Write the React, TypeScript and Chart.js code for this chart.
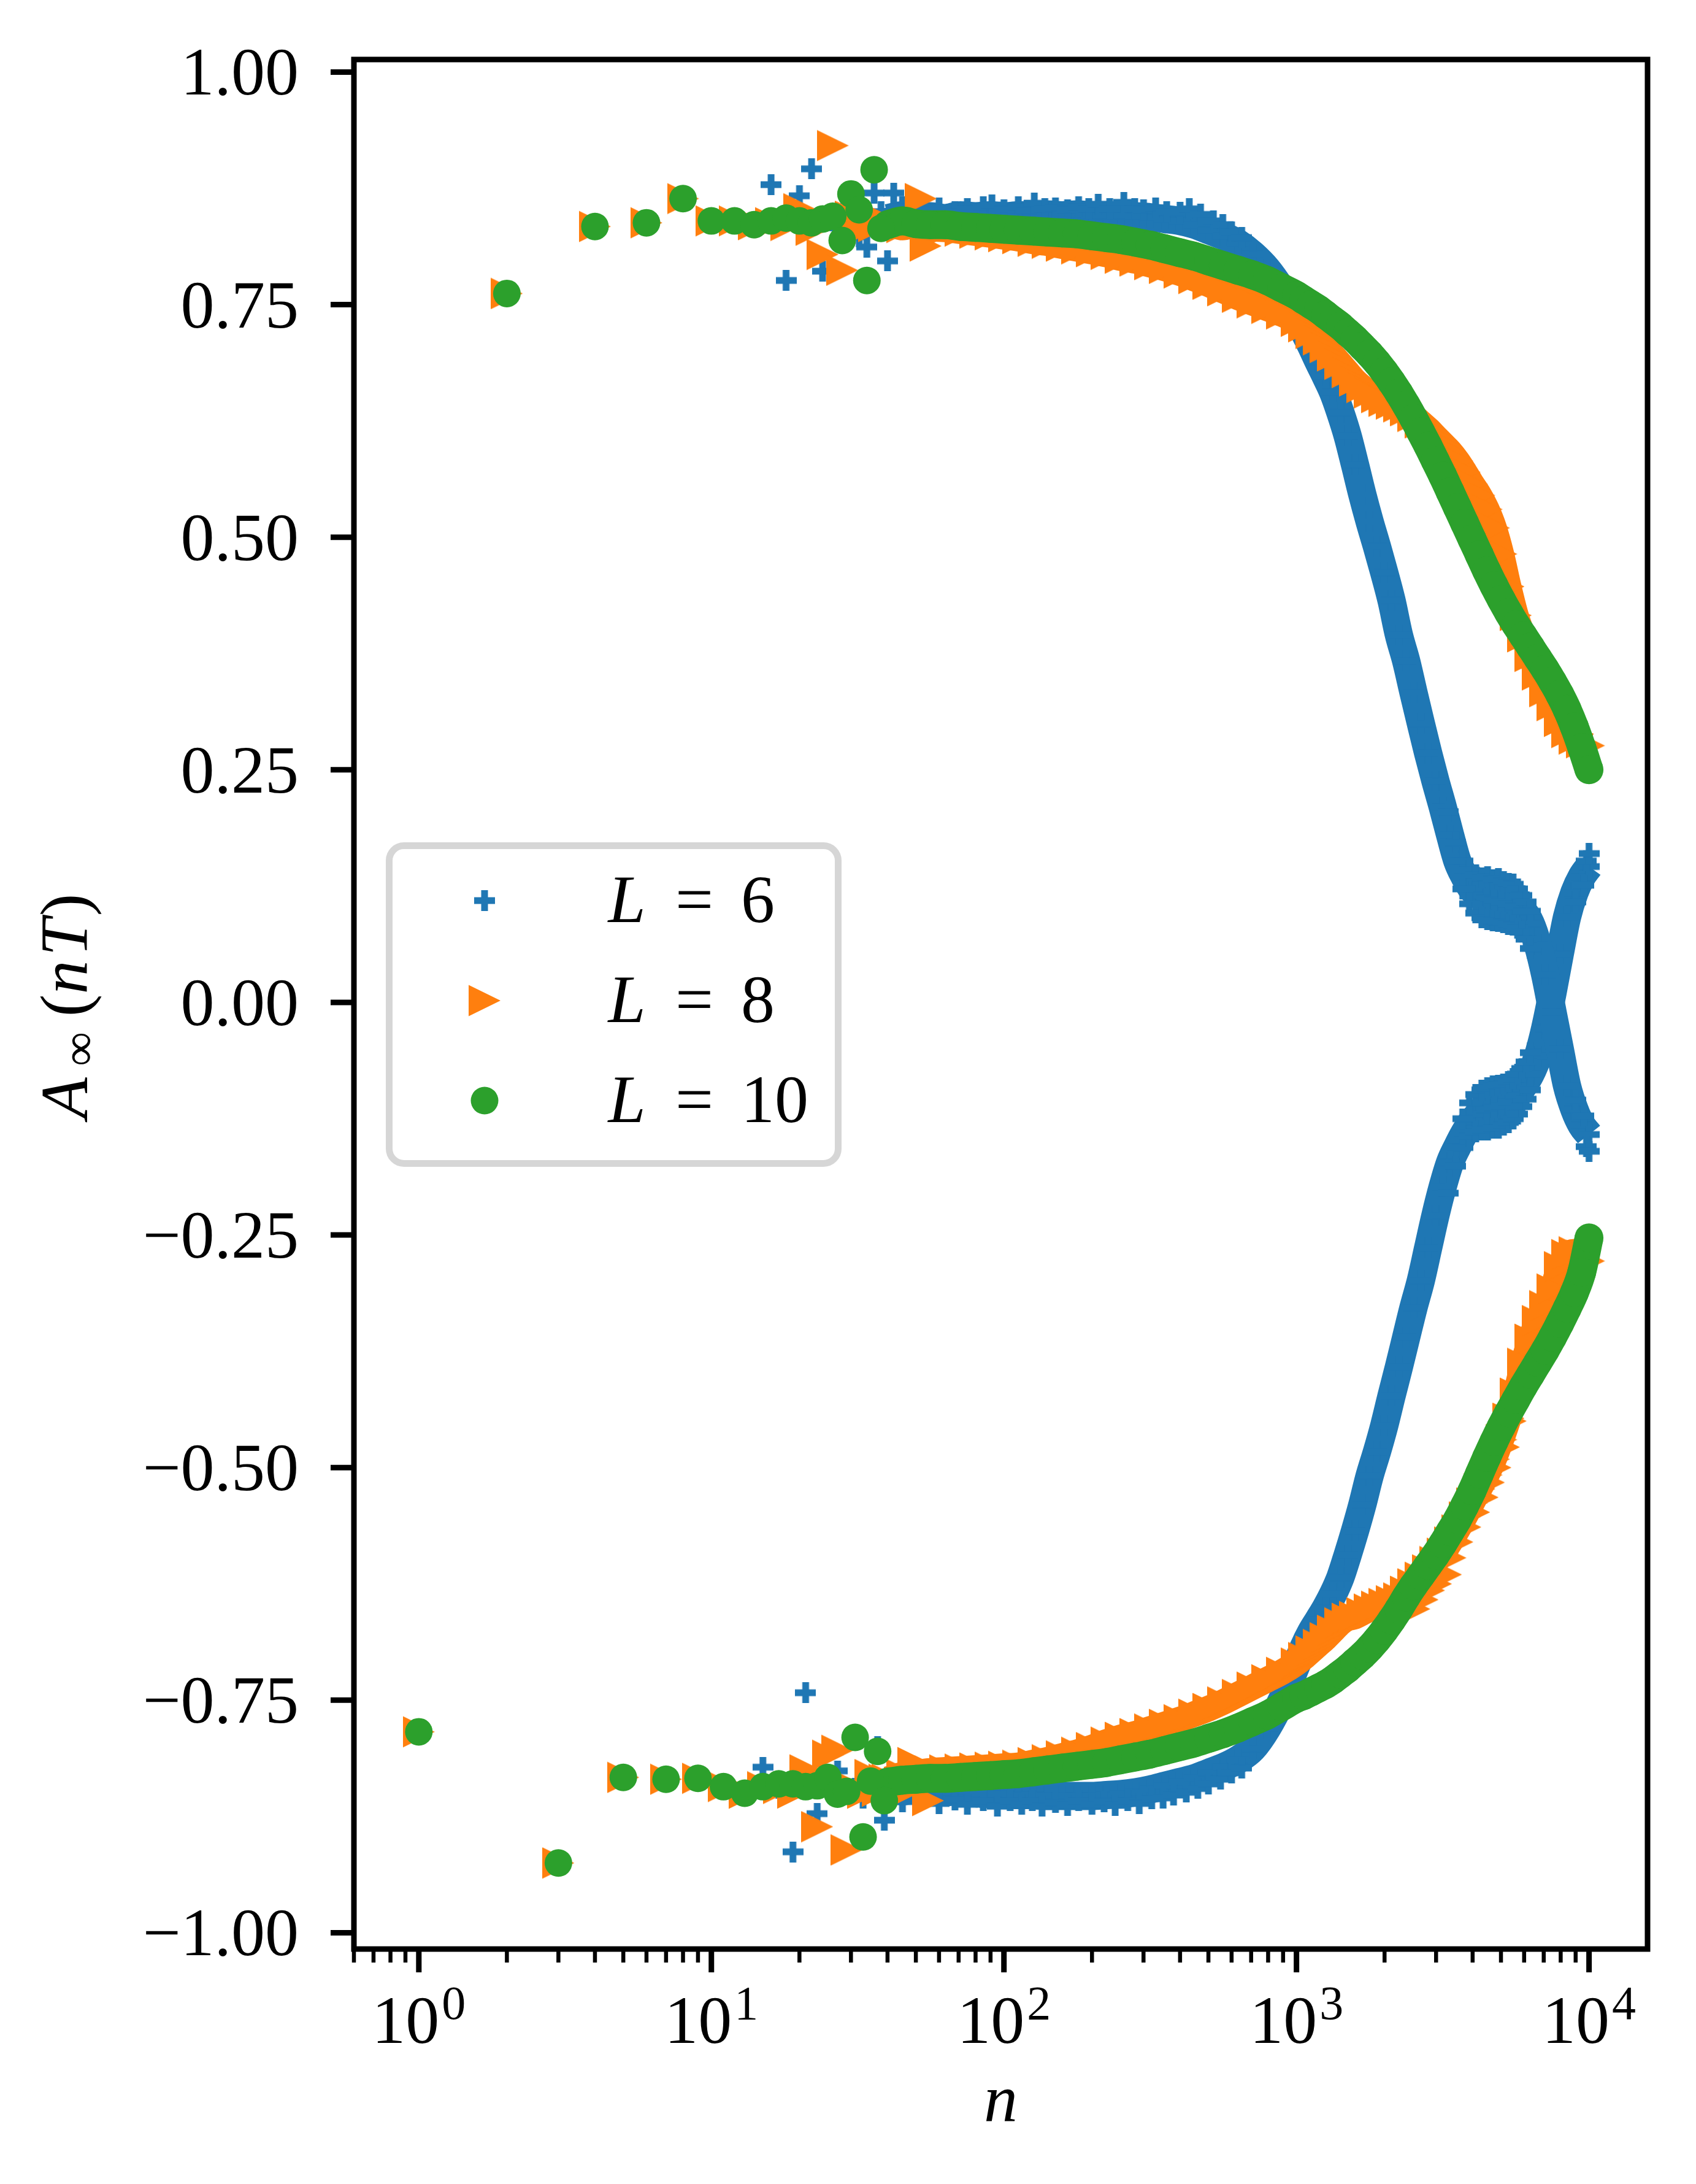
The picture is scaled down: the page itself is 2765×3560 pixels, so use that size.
import React, { useEffect, useRef } from 'react';
import { Chart, registerables } from 'chart.js';

Chart.register(...registerables);

// ---------------- data ----------------
const N_EARLY = [1, 2, 3, 4, 5, 6, 7, 8, 9, 10, 11, 12, 13, 14, 15, 16, 17, 18, 19, 20,
  21, 22, 23, 24, 25, 26, 27, 28, 29, 30, 31, 32, 33, 34, 35, 36, 37, 38, 39];

const L6_EARLY = [-0.784, 0.762, -0.925, 0.834, -0.833, 0.838, -0.835, 0.864, -0.834, 0.840,
  -0.843, 0.840, -0.850, 0.838, -0.822, 0.879, -0.845, 0.776, -0.913, 0.867,
  -0.742, 0.896, -0.872, 0.786, -0.840, 0.840, -0.826, 0.845, -0.850, 0.862,
  -0.845, 0.823, -0.855, 0.812, -0.840, 0.870, -0.800, 0.850, -0.879];

const L8_EARLY = [-0.784, 0.762, -0.925, 0.834, -0.833, 0.838, -0.835, 0.864, -0.834, 0.840,
  -0.843, 0.840, -0.850, 0.836, -0.843, 0.838, -0.845, 0.835, -0.850, 0.853,
  -0.825, 0.830, -0.886, 0.804, -0.809, 0.921, -0.804, 0.787, -0.911, 0.845,
  -0.845, 0.830, -0.850, 0.845, -0.830, 0.834, -0.848, 0.840, -0.835];

const L10_EARLY = [-0.784, 0.762, -0.925, 0.834, -0.833, 0.838, -0.835, 0.864, -0.834, 0.840,
  -0.843, 0.840, -0.850, 0.836, -0.843, 0.840, -0.840, 0.843, -0.840, 0.840,
  -0.843, 0.838, -0.842, 0.842, -0.833, 0.845, -0.851, 0.819, -0.848, 0.869,
  -0.790, 0.852, -0.897, 0.776, -0.837, 0.895, -0.805, 0.832, -0.858];

const N_BAND = [40, 45, 50, 56, 63, 71, 80, 90, 100,
  112, 126, 141, 158, 178, 200, 224, 251, 282, 316,
  355, 398, 447, 501, 562, 631, 708, 794, 891, 1000,
  1059, 1122, 1189, 1259, 1334, 1413, 1496, 1585, 1679, 1778,
  1884, 1995, 2113, 2239, 2371, 2512, 2661, 2818, 2985, 3162,
  3350, 3548, 3758, 3981, 4217, 4467, 4732, 5012, 5309, 5623,
  5957, 6310, 6683, 7079, 7499, 7943, 8414, 8913, 9441, 10000];

const L10_POS = [0.836, 0.840, 0.837, 0.836, 0.836, 0.834, 0.833, 0.832, 0.831,
  0.830, 0.829, 0.828, 0.827, 0.826, 0.824, 0.822, 0.820, 0.817, 0.814,
  0.810, 0.806, 0.802, 0.797, 0.792, 0.787, 0.782, 0.776, 0.768, 0.760,
  0.755, 0.750, 0.745, 0.739, 0.733, 0.727, 0.720, 0.713, 0.705, 0.697,
  0.688, 0.678, 0.667, 0.655, 0.642, 0.628, 0.613, 0.598, 0.582, 0.566,
  0.549, 0.532, 0.515, 0.498, 0.481, 0.464, 0.448, 0.433, 0.419, 0.406,
  0.394, 0.382, 0.370, 0.358, 0.345, 0.331, 0.315, 0.296, 0.274, 0.250];

const L10_NEG = [-0.838, -0.836, -0.835, -0.834, -0.834, -0.833, -0.832, -0.831, -0.830,
  -0.829, -0.827, -0.825, -0.823, -0.821, -0.819, -0.817, -0.814, -0.811, -0.808,
  -0.804, -0.800, -0.796, -0.791, -0.786, -0.780, -0.773, -0.766, -0.757, -0.748,
  -0.745, -0.741, -0.737, -0.733, -0.728, -0.722, -0.716, -0.709, -0.702, -0.694,
  -0.685, -0.675, -0.664, -0.652, -0.639, -0.627, -0.616, -0.605, -0.594, -0.582,
  -0.569, -0.556, -0.541, -0.525, -0.507, -0.489, -0.472, -0.456, -0.441, -0.427,
  -0.413, -0.400, -0.387, -0.374, -0.360, -0.345, -0.329, -0.312, -0.290, -0.253];

const L8_POS = [0.838, 0.833, 0.836, 0.832, 0.831, 0.829, 0.827, 0.825, 0.823,
  0.821, 0.818, 0.816, 0.813, 0.810, 0.807, 0.804, 0.800, 0.797, 0.793,
  0.789, 0.784, 0.778, 0.772, 0.765, 0.758, 0.752, 0.746, 0.740, 0.732,
  0.726, 0.719, 0.712, 0.704, 0.695, 0.686, 0.677, 0.668, 0.661, 0.655,
  0.650, 0.646, 0.643, 0.640, 0.636, 0.630, 0.623, 0.616, 0.608, 0.600,
  0.592, 0.582, 0.570, 0.557, 0.545, 0.530, 0.510, 0.482, 0.447, 0.416,
  0.393, 0.372, 0.352, 0.334, 0.319, 0.302, 0.290, 0.283, 0.279, 0.276];

const L8_NEG = [-0.835, -0.830, -0.828, -0.826, -0.825, -0.824, -0.823, -0.822, -0.821,
  -0.820, -0.817, -0.814, -0.810, -0.806, -0.801, -0.795, -0.790, -0.786, -0.781,
  -0.776, -0.771, -0.765, -0.759, -0.752, -0.744, -0.736, -0.728, -0.720, -0.710,
  -0.704, -0.697, -0.690, -0.683, -0.675, -0.667, -0.662, -0.660, -0.656, -0.652,
  -0.649, -0.646, -0.643, -0.640, -0.633, -0.625, -0.618, -0.610, -0.601, -0.592,
  -0.580, -0.567, -0.553, -0.538, -0.523, -0.508, -0.491, -0.470, -0.447, -0.420,
  -0.388, -0.362, -0.342, -0.326, -0.308, -0.284, -0.271, -0.268, -0.272, -0.278];

const L6_POS = [0.843, 0.846, 0.844, 0.845, 0.843, 0.846, 0.845, 0.846, 0.845,
  0.846, 0.846, 0.847, 0.846, 0.847, 0.846, 0.846, 0.846, 0.845, 0.844,
  0.842, 0.840, 0.836, 0.830, 0.824, 0.816, 0.804, 0.788, 0.766, 0.740,
  0.722, 0.706, 0.689, 0.673, 0.656, 0.634, 0.609, 0.578, 0.546, 0.517,
  0.490, 0.462, 0.432, 0.395, 0.367, 0.333, 0.300, 0.268, 0.238, 0.210,
  0.180, 0.152, 0.135, 0.122, 0.115, 0.112, 0.110, 0.108, 0.106, 0.103,
  0.098, 0.085, 0.062, 0.030, -0.010, -0.050, -0.090, -0.115, -0.132, -0.142];

const L6_NEG = [-0.842, -0.848, -0.845, -0.847, -0.849, -0.848, -0.850, -0.851, -0.851,
  -0.852, -0.852, -0.853, -0.853, -0.853, -0.853, -0.852, -0.851, -0.849, -0.846,
  -0.842, -0.838, -0.834, -0.828, -0.822, -0.814, -0.802, -0.780, -0.750, -0.712,
  -0.693, -0.677, -0.664, -0.651, -0.636, -0.618, -0.594, -0.568, -0.540, -0.509,
  -0.483, -0.455, -0.423, -0.392, -0.360, -0.328, -0.299, -0.264, -0.229, -0.198,
  -0.172, -0.155, -0.140, -0.128, -0.120, -0.115, -0.113, -0.111, -0.107, -0.100,
  -0.090, -0.077, -0.058, -0.028, 0.010, 0.052, 0.092, 0.118, 0.135, 0.146];

// scattered L = 6 samples at the ragged edges of the band
const L6_EDGE_N = [40, 42, 43, 57,
  45, 52, 60, 68, 75, 85, 91, 100, 112, 120, 127, 138, 150, 165, 180, 195,
  210, 230, 257, 280, 300, 330, 360, 400, 430, 470, 520, 560, 600, 650,
  3300, 3500, 3700, 3900, 4100, 4300, 4500, 4700, 4900, 5100, 5300, 5500, 5700, 5900, 6100, 6300,
  3700, 3900, 4100, 4300, 4500, 4700, 4900, 5100, 5300, 5500, 5700, 5900, 6100, 6300,
  9000, 9600, 9800, 10000,
  45, 52, 60, 68, 75, 85, 95, 105, 115, 125, 135, 150, 165, 180, 200, 220,
  240, 265, 290, 320, 350, 380, 420, 460, 500, 550, 600, 650,
  3300, 3500, 3700, 3900, 4100, 4300, 4500, 4700, 4900, 5100, 5300, 5500, 5700, 5900, 6100, 6300,
  3700, 3900, 4100, 4300, 4500, 4700, 4900, 5100, 5300, 5500, 5700, 5900, 6100, 6300,
  9000, 9600, 9800, 10000];

const L6_EDGE_Y = [0.797, 0.870, -0.830, -0.830,
  0.855, 0.852, 0.854, 0.850, 0.853, 0.855, 0.857, 0.852, 0.855, 0.851, 0.859, 0.853, 0.854, 0.852, 0.855, 0.853,
  0.858, 0.853, 0.860, 0.853, 0.852, 0.854, 0.850, 0.849, 0.853, 0.847, 0.840, 0.836, 0.828, 0.822,
  0.205, 0.172, 0.152, 0.142, 0.137, 0.134, 0.135, 0.132, 0.133, 0.130, 0.128, 0.127, 0.122, 0.115, 0.108, 0.098,
  0.122, 0.106, 0.096, 0.091, 0.089, 0.088, 0.087, 0.086, 0.084, 0.083, 0.080, 0.076, 0.068, 0.058,
  -0.105, -0.122, -0.155, -0.160,
  -0.859, -0.855, -0.861, -0.857, -0.862, -0.858, -0.864, -0.858, -0.862, -0.858, -0.864, -0.860, -0.863, -0.858, -0.862, -0.859,
  -0.863, -0.858, -0.861, -0.856, -0.855, -0.852, -0.849, -0.845, -0.840, -0.835, -0.828, -0.823,
  -0.205, -0.176, -0.156, -0.144, -0.139, -0.137, -0.137, -0.135, -0.135, -0.132, -0.129, -0.125, -0.120, -0.112, -0.104, -0.094,
  -0.125, -0.108, -0.099, -0.094, -0.092, -0.090, -0.089, -0.088, -0.085, -0.082, -0.077, -0.071, -0.064, -0.054,
  0.108, 0.126, 0.152, 0.160];

// scattered L = 8 samples (outliers and the lower ragged edge of the odd branch)
const L8_EDGE_N = [52, 54, 45, 49, 55,
  2530, 2700, 2840, 3000, 3245, 3360, 3550, 3780, 4050, 4330, 4550, 4790, 5120, 5400];
const L8_EDGE_Y = [0.864, 0.813, -0.850, -0.817, -0.858,
  -0.652, -0.642, -0.632, -0.625, -0.615, -0.597, -0.580, -0.564, -0.548, -0.532, -0.516, -0.500, -0.478, -0.450];

const Y_TICKS = [-1.0, -0.75, -0.5, -0.25, 0.0, 0.25, 0.5, 0.75, 1.0];
const X_DECADES = [0, 1, 2, 3, 4];
const MINOR_MULT = [2, 3, 4, 5, 6, 7, 8, 9];
const LEGEND_VALUES = ['6', '8', '10'];

// ---------------- layout / style ----------------
const W = 2765;
const H = 3560;
const AREA = { left: 577, top: 97, right: 2686, bottom: 3177 };
const X_MIN = 0.631;
const X_MAX = 15849;
const Y_MIN = -1.0175;
const Y_MAX = 1.0135;
const BLUE = '#1f77b4';
const ORANGE = '#ff7f0e';
const GREEN = '#2ca02c';
const SERIF = '"Liberation Serif", "Times New Roman", serif';
const FS = 110;
const FS_SMALL = 78;

function pts(ns: number[], ys: number[]) {
  return ns.map((n, i) => ({ x: n, y: ys[i] }));
}

function makePlus(): HTMLCanvasElement {
  const c = document.createElement('canvas');
  c.width = 34;
  c.height = 34;
  const g = c.getContext('2d')!;
  g.fillStyle = BLUE;
  g.fillRect(11.5, 0, 11, 34);
  g.fillRect(0, 11.5, 34, 11);
  return c;
}

function makeTriangle(): HTMLCanvasElement {
  const c = document.createElement('canvas');
  c.width = 52;
  c.height = 52;
  const g = c.getContext('2d')!;
  g.fillStyle = ORANGE;
  g.beginPath();
  g.moveTo(0, 0.5);
  g.lineTo(52, 26);
  g.lineTo(0, 51.5);
  g.closePath();
  g.fill();
  return c;
}

function fmtY(v: number) {
  const s = Math.abs(v).toFixed(2);
  return v < 0 ? '\u2212' + s : s;
}

function makePlugin(plus: HTMLCanvasElement, tri: HTMLCanvasElement) {
  return {
    id: 'mplLook',
    beforeDraw(chart: any) {
      const ctx = chart.ctx;
      ctx.save();
      ctx.fillStyle = '#ffffff';
      ctx.fillRect(0, 0, chart.width, chart.height);
      ctx.restore();
    },
    afterDraw(chart: any) {
      const ctx: CanvasRenderingContext2D = chart.ctx;
      const a = chart.chartArea;
      const xs = chart.scales.x;
      const ys = chart.scales.y;
      ctx.save();
      ctx.fillStyle = '#000';
      ctx.strokeStyle = '#000';

      // spines
      ctx.lineWidth = 9;
      ctx.lineJoin = 'miter';
      ctx.strokeRect(a.left, a.top, a.right - a.left, a.bottom - a.top);

      // y ticks + labels
      ctx.font = `${FS}px ${SERIF}`;
      ctx.textAlign = 'right';
      ctx.textBaseline = 'alphabetic';
      for (const v of Y_TICKS) {
        const py = ys.getPixelForValue(v);
        ctx.lineWidth = 9;
        ctx.beginPath();
        ctx.moveTo(a.left - 38, py);
        ctx.lineTo(a.left, py);
        ctx.stroke();
        ctx.fillText(fmtY(v), a.left - 90, py + 37);
      }

      // x minor ticks
      ctx.lineWidth = 6.5;
      for (let d = -1; d <= 4; d++) {
        for (const m of MINOR_MULT) {
          const v = m * Math.pow(10, d);
          if (v < xs.min || v > xs.max) continue;
          const px = xs.getPixelForValue(v);
          ctx.beginPath();
          ctx.moveTo(px, a.bottom);
          ctx.lineTo(px, a.bottom + 22);
          ctx.stroke();
        }
      }
      // x major ticks + labels 10^k
      for (const d of X_DECADES) {
        const px = xs.getPixelForValue(Math.pow(10, d));
        ctx.lineWidth = 9;
        ctx.beginPath();
        ctx.moveTo(px, a.bottom);
        ctx.lineTo(px, a.bottom + 38);
        ctx.stroke();
        ctx.textAlign = 'left';
        ctx.font = `${FS}px ${SERIF}`;
        const w1 = ctx.measureText('10').width;
        ctx.font = `${FS_SMALL}px ${SERIF}`;
        const w2 = ctx.measureText(String(d)).width;
        const x0 = px - (w1 + w2 + 4) / 2;
        ctx.font = `${FS}px ${SERIF}`;
        ctx.fillText('10', x0, 3330);
        ctx.font = `${FS_SMALL}px ${SERIF}`;
        ctx.fillText(String(d), x0 + w1 + 4, 3291);
      }

      // x axis label
      ctx.textAlign = 'center';
      ctx.font = `italic ${FS}px ${SERIF}`;
      ctx.fillText('n', (a.left + a.right) / 2, 3458);

      // y axis label  A_inf(nT), rotated
      ctx.save();
      ctx.translate(142, 1643);
      ctx.rotate(-Math.PI / 2);
      ctx.textAlign = 'center';
      ctx.font = `italic ${FS}px ${SERIF}`;
      ctx.fillText('A', -147, 0);
      ctx.font = `${FS_SMALL}px ${SERIF}`;
      ctx.fillText('\u221E', -67, 13);
      ctx.font = `${FS}px ${SERIF}`;
      ctx.fillText('(', 4, 0);
      ctx.font = `italic ${FS}px ${SERIF}`;
      ctx.fillText('n', 50, 0);
      ctx.fillText('T', 115, 0);
      ctx.font = `${FS}px ${SERIF}`;
      ctx.fillText(')', 168, 0);
      ctx.restore();

      // legend
      const bx = 634.5, by = 1378.5, bw = 732, bh = 518, r = 24;
      ctx.beginPath();
      ctx.moveTo(bx + r, by);
      ctx.lineTo(bx + bw - r, by);
      ctx.arcTo(bx + bw, by, bx + bw, by + r, r);
      ctx.lineTo(bx + bw, by + bh - r);
      ctx.arcTo(bx + bw, by + bh, bx + bw - r, by + bh, r);
      ctx.lineTo(bx + r, by + bh);
      ctx.arcTo(bx, by + bh, bx, by + bh - r, r);
      ctx.lineTo(bx, by + r);
      ctx.arcTo(bx, by, bx + r, by, r);
      ctx.closePath();
      ctx.fillStyle = '#ffffff';
      ctx.fill();
      ctx.lineWidth = 11;
      ctx.strokeStyle = '#d6d6d6';
      ctx.stroke();

      const rowsY = [1468, 1631, 1794];
      ctx.drawImage(plus, 790 - 17, rowsY[0] - 17);
      ctx.drawImage(tri, 790 - 26, rowsY[1] - 26);
      ctx.fillStyle = GREEN;
      ctx.beginPath();
      ctx.arc(790, rowsY[2], 22.5, 0, Math.PI * 2);
      ctx.fill();

      ctx.fillStyle = '#000';
      LEGEND_VALUES.forEach((val, i) => {
        const base = rowsY[i] + 35;
        ctx.textAlign = 'center';
        ctx.font = `italic ${FS}px ${SERIF}`;
        ctx.fillText('L', 1022, base);
        ctx.font = `${FS}px ${SERIF}`;
        ctx.fillText('=', 1132, base);
        ctx.textAlign = 'left';
        ctx.fillText(val, 1208, base);
      });

      ctx.restore();
    },
  };
}

export default function App() {
  const ref = useRef<HTMLCanvasElement>(null);

  useEffect(() => {
    const canvas = ref.current;
    if (!canvas) return;
    const plus = makePlus();
    const tri = makeTriangle();

    const bandLine = (color: string, width: number) => ({
      showLine: true,
      borderColor: color,
      borderWidth: width,
      borderCapStyle: 'butt' as const,
      borderJoinStyle: 'round' as const,
      cubicInterpolationMode: 'monotone' as const,
    });

    const datasets: any[] = [
      // L = 10 (green, drawn on top)
      { label: 'L = 10', data: pts(N_EARLY, L10_EARLY), showLine: false, pointStyle: 'circle', pointRadius: 22.5, pointBackgroundColor: GREEN, pointBorderWidth: 0, order: 0 },
      { label: 'L = 10 even', data: pts(N_BAND, L10_POS), ...bandLine(GREEN, 47), pointStyle: 'circle', pointRadius: 23.5, pointBackgroundColor: GREEN, pointBorderWidth: 0, order: 0 },
      { label: 'L = 10 odd', data: pts(N_BAND, L10_NEG), ...bandLine(GREEN, 47), pointStyle: 'circle', pointRadius: 23.5, pointBackgroundColor: GREEN, pointBorderWidth: 0, order: 0 },
      // L = 8 (orange)
      { label: 'L = 8', data: pts(N_EARLY, L8_EARLY), showLine: false, pointStyle: tri, pointRadius: 26, order: 1 },
      { label: 'L = 8 edge', data: pts(L8_EDGE_N, L8_EDGE_Y), showLine: false, pointStyle: tri, pointRadius: 26, order: 1 },
      { label: 'L = 8 even', data: pts(N_BAND, L8_POS), ...bandLine(ORANGE, 42), pointStyle: tri, pointRadius: 26, order: 1 },
      { label: 'L = 8 odd', data: pts(N_BAND, L8_NEG), ...bandLine(ORANGE, 42), pointStyle: tri, pointRadius: 26, order: 1 },
      // L = 6 (blue, bottom)
      { label: 'L = 6', data: pts(N_EARLY, L6_EARLY), showLine: false, pointStyle: plus, pointRadius: 17, order: 2 },
      { label: 'L = 6 edge', data: pts(L6_EDGE_N, L6_EDGE_Y), showLine: false, pointStyle: plus, pointRadius: 17, order: 2 },
      { label: 'L = 6 even', data: pts(N_BAND, L6_POS), ...bandLine(BLUE, 46), pointStyle: plus, pointRadius: 17, order: 2 },
      { label: 'L = 6 odd', data: pts(N_BAND, L6_NEG), ...bandLine(BLUE, 46), pointStyle: plus, pointRadius: 17, order: 2 },
    ];

    const chart = new Chart(canvas, {
      type: 'scatter',
      data: { datasets },
      options: {
        animation: false,
        responsive: false,
        maintainAspectRatio: false,
        devicePixelRatio: 1,
        events: [],
        layout: { padding: { left: 0, top: AREA.top, right: W - AREA.right, bottom: 0 } },
        scales: {
          x: {
            type: 'logarithmic',
            min: X_MIN,
            max: X_MAX,
            grid: { display: false },
            border: { display: false },
            ticks: { display: false },
            afterFit: (s: any) => { s.height = H - AREA.bottom; },
          },
          y: {
            type: 'linear',
            min: Y_MIN,
            max: Y_MAX,
            grid: { display: false },
            border: { display: false },
            ticks: { display: false },
            afterFit: (s: any) => { s.width = AREA.left; },
          },
        },
        plugins: {
          legend: { display: false },
          tooltip: { enabled: false },
        },
      } as any,
      plugins: [makePlugin(plus, tri)],
    });

    return () => chart.destroy();
  }, []);

  return (
    <div style={{ position: 'absolute', left: 0, top: 0, width: W, height: H, background: '#ffffff' }}>
      <canvas ref={ref} width={W} height={H} style={{ display: 'block', width: W, height: H }} />
    </div>
  );
}
